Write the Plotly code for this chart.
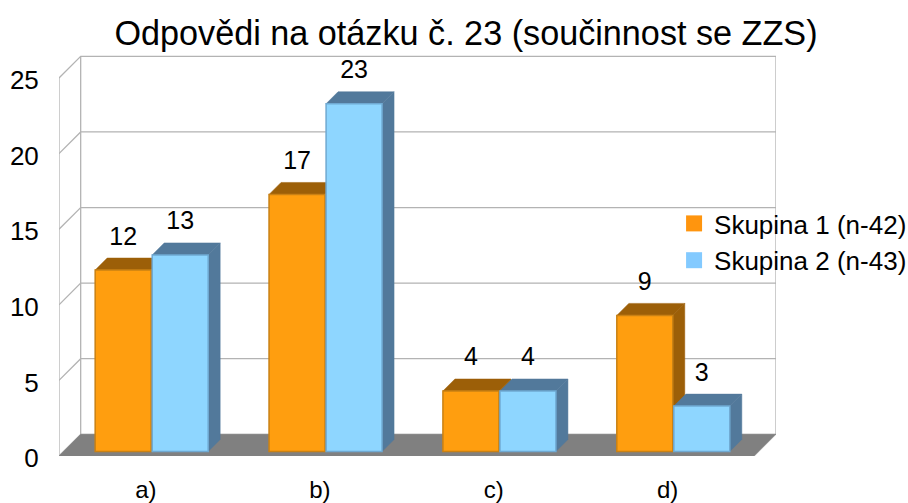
"""Grouped bars with a drawn 3D look: answers to question 23, two groups."""

import plotly.graph_objects as go

CATEGORIES = ["a)", "b)", "c)", "d)"]
SKUPINA_1 = [12, 17, 4, 9]
SKUPINA_2 = [13, 23, 4, 3]
Y_TICKS = [0, 5, 10, 15, 20, 25]

FONT = "Liberation Sans"
ORANGE = "#ff9e0f"
ORANGE_EDGE = "#c98114"
ORANGE_DARK = "#9c5f08"
ORANGE_KEY = "#ff950e"
BLUE = "#8ed6ff"
BLUE_EDGE = "#6fa9d2"
BLUE_DARK = "#52799b"
BLUE_KEY = "#83caff"
GRID = "#b3b3b3"
FLOOR = "#808080"

# scale: one category is 174 px, one y unit 15.12 px
X_RANGE = [-0.5, 3.6236]
Y_RANGE = [0, 26.59]
WALL_DX, WALL_DY = 0.1247, 1.435   # depth of the chart box
BAR_DX, BAR_DY = 0.069, 0.794      # depth of one bar
BAR_LIFT = 0.3                     # bars stand a bit behind the front edge
BAR_WIDTH = 0.322
BAR_SHIFT = 0.164
GROUP_SHIFT = 0.033

fig = go.Figure()


def polygon(xs, ys, color):
    fig.add_trace(go.Scatter(
        x=xs + xs[:1], y=ys + ys[:1],
        mode="lines", fill="toself", fillcolor=color,
        line=dict(color=color, width=0.5),
        showlegend=False, hoverinfo="skip",
    ))


# Walls: grid lines run along the side wall and then the back wall
x0, x1 = X_RANGE[0], X_RANGE[1]
grid_x, grid_y = [], []
for t in Y_TICKS:
    grid_x += [x0, x0 + WALL_DX, x1, None]
    grid_y += [t, t + WALL_DY, t + WALL_DY, None]
top = Y_TICKS[-1]
for x, y_low, y_high in [(x0, 0, top), (x0 + WALL_DX, WALL_DY, top + WALL_DY), (x1, WALL_DY, top + WALL_DY)]:
    grid_x += [x, x, None]
    grid_y += [y_low, y_high, None]
fig.add_trace(go.Scatter(
    x=grid_x, y=grid_y, mode="lines",
    line=dict(color=GRID, width=1.3),
    showlegend=False, hoverinfo="skip",
))

# Floor
polygon([x0, x1 - WALL_DX, x1, x0 + WALL_DX], [0, 0, WALL_DY, WALL_DY], FLOOR)

# Side and top faces, first group underneath the second
for values, shift, dark in [(SKUPINA_1, -BAR_SHIFT, ORANGE_DARK), (SKUPINA_2, BAR_SHIFT, BLUE_DARK)]:
    for i, v in enumerate(values):
        left = i + GROUP_SHIFT + shift - BAR_WIDTH / 2
        right = left + BAR_WIDTH
        high = v + BAR_LIFT
        polygon(
            [right, right + BAR_DX, right + BAR_DX, right],
            [BAR_LIFT, BAR_LIFT + BAR_DY, high + BAR_DY, high], dark,
        )
        polygon(
            [left, right, right + BAR_DX, left + BAR_DX],
            [high, high, high + BAR_DY, high + BAR_DY], dark,
        )

# Front faces go on an overlay axis so they sit above the dark faces
positions = list(range(len(CATEGORIES)))
for values, shift, color, edge in [
    (SKUPINA_1, -BAR_SHIFT, ORANGE, ORANGE_EDGE),
    (SKUPINA_2, BAR_SHIFT, BLUE, BLUE_EDGE),
]:
    fig.add_trace(go.Bar(
        x=[p + GROUP_SHIFT + shift for p in positions],
        y=values,
        base=BAR_LIFT,
        width=BAR_WIDTH,
        marker=dict(color=color, line=dict(color=edge, width=1.5)),
        xaxis="x2", yaxis="y2",
        showlegend=False,
    ))
    # Value labels
    fig.add_trace(go.Scatter(
        x=[p + GROUP_SHIFT + shift for p in positions],
        y=[v + 2.4 for v in values],
        text=[str(v) for v in values],
        mode="text",
        textposition="middle center",
        textfont=dict(family=FONT, size=25, color="#000000"),
        xaxis="x2", yaxis="y2",
        showlegend=False, hoverinfo="skip",
    ))

# Legend keys
for name, color, group in [("Skupina 1 (n-42)", ORANGE_KEY, "g1"), ("Skupina 2 (n-43)", BLUE_KEY, "g2")]:
    fig.add_trace(go.Scatter(
        x=[None], y=[None], name=name, mode="markers",
        legendgroup=group,
        marker=dict(symbol="square", size=16, color=color),
    ))

# Body margin is removed below, so layout pixels are page pixels
fig.update_layout(
    width=908, height=503,
    autosize=False,
    barmode="overlay",
    paper_bgcolor="#ffffff",
    plot_bgcolor="rgba(0,0,0,0)",
    margin=dict(l=58.5, r=132, t=54, b=47, autoexpand=False),
    font=dict(family=FONT, color="#000000"),
    title=dict(
        text="Odpovědi na otázku č. 23 (součinnost se ZZS)",
        font=dict(family=FONT, size=34.2),
        x=466 / 908, xanchor="center",
        y=1 - 33 / 503, yanchor="middle",
    ),
    legend=dict(
        x=(674 - 58.5) / 717.5, xanchor="left",
        y=(456 - 200) / 402, yanchor="top",
        bgcolor="rgba(0,0,0,0)",
        font=dict(family=FONT, size=26),
        tracegroupgap=0,
        traceorder="grouped",
    ),
    xaxis=dict(
        range=X_RANGE,
        tickmode="array", tickvals=positions, ticktext=CATEGORIES,
        tickfont=dict(family=FONT, size=24),
        ticks="outside", ticklen=12, tickcolor="rgba(0,0,0,0)",
        showgrid=False, zeroline=False, showline=False,
    ),
    yaxis=dict(
        range=Y_RANGE,
        tickmode="array", tickvals=Y_TICKS,
        tickfont=dict(family=FONT, size=26),
        ticks="outside", ticklen=14, tickcolor="rgba(0,0,0,0)",
        ticklabelshift=2,
        showgrid=False, zeroline=False, showline=False,
    ),
    xaxis2=dict(range=X_RANGE, overlaying="x", visible=False),
    yaxis2=dict(range=Y_RANGE, overlaying="y", visible=False),
)

fig.write_html(
    "out.html",
    config={"displayModeBar": False},
    post_script="document.body.style.margin = '0';",
)
